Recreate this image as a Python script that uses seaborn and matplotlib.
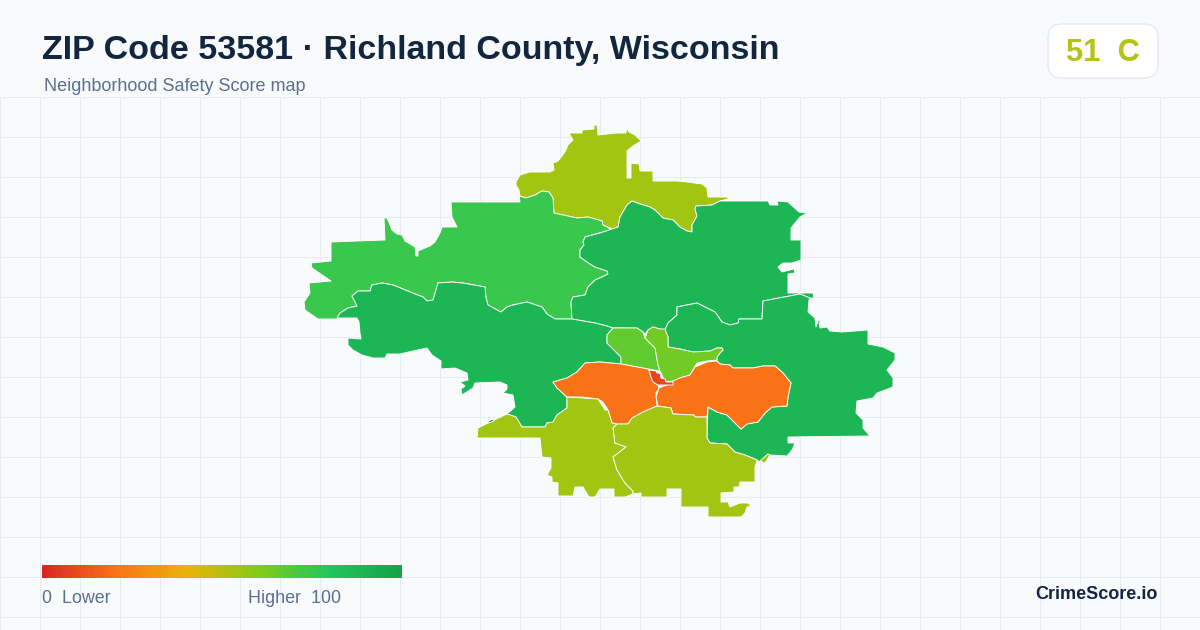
#!/usr/bin/env python3
"""Neighborhood Safety Score map for ZIP 53581, redrawn with seaborn + matplotlib."""

import numpy as np
import matplotlib
matplotlib.use("Agg")
import matplotlib.pyplot as plt
import seaborn as sns
from matplotlib.colors import LinearSegmentedColormap
from matplotlib.patches import FancyBboxPatch

# score scale
scale_stops = [0.0, 0.2, 0.4, 0.6, 0.8, 1.0]
scale_colors = ["#dc2626", "#f97316", "#eab308", "#84cc16", "#22c55e", "#16a34a"]
legend_scores = list(range(0, 101))

title = "ZIP Code 53581 · Richland County, Wisconsin"
subtitle = "Neighborhood Safety Score map"
badge_text = "51  C"

# tract outlines (x, y on the 1200x630 canvas)
north_tract = [(516,182),(520,175),(530,172),(550,172),(554,170),(553,163),(558,161),(565,152),(568,145),(573,140),(569,133),(582,133),(582,130),(594,129),(594,125),(597,125),(598,135),(617,133),(626,133),(627,128),(629,132),(635,135),(641,141),(633,146),(627,151),(627,178),(631,178),(631,163),(639,164),(640,171),(653,171),(653,181),(677,181),(687,182),(702,184),(707,188),(708,197),(728,197),(728,199),(720,201),(712,205),(696,206),(695,209),(697,216),(692,225),(692,232),(687,231),(680,227),(673,220),(663,218),(655,210),(650,207),(640,204),(632,201),(627,205),(620,217),(618,227),(612,229),(603,225),(602,221),(588,217),(577,218),(554,213),(553,198),(549,192),(542,191),(535,195),(526,198),(520,196),(519,190),(516,185)]
northwest_tract = [(451,202),(520,202),(519,196),(526,198),(535,195),(542,191),(549,192),(553,198),(554,213),(577,218),(588,217),(602,221),(603,225),(609,228),(610,230),(585,237),(583,242),(584,245),(580,250),(580,257),(587,262),(595,267),(607,271),(608,274),(602,277),(595,280),(588,287),(585,295),(573,297),(571,302),(572,319),(555,319),(547,314),(542,307),(527,302),(513,305),(507,307),(501,312),(488,305),(486,298),(485,287),(463,283),(452,282),(438,283),(433,300),(427,301),(423,297),(415,294),(403,289),(393,285),(382,283),(372,285),(370,291),(358,291),(352,296),(357,306),(348,308),(340,313),(337,319),(318,319),(305,310),(304,302),(310,293),(309,283),(331,281),(312,268),(311,263),(331,261),(331,242),(357,241),(385,240),(384,218),(387,218),(392,230),(397,234),(402,235),(405,241),(415,247),(416,256),(418,256),(418,251),(430,246),(435,242),(440,233),(442,227),(457,227),(452,217)]
center_north_tract = [(585,237),(600,233),(612,229),(618,227),(620,217),(627,205),(632,201),(640,204),(650,207),(655,210),(663,218),(673,220),(680,227),(687,231),(692,232),(692,225),(697,216),(695,209),(696,206),(712,205),(720,201),(768,201),(770,205),(778,205),(777,201),(788,202),(799,212),(807,213),(800,217),(795,223),(791,228),(791,240),(801,240),(801,260),(792,263),(783,263),(778,267),(782,272),(794,269),(795,273),(788,274),(788,293),(813,293),(814,298),(810,298),(800,294),(763,301),(762,319),(739,319),(738,323),(730,325),(722,322),(715,312),(697,303),(677,307),(677,315),(668,323),(665,330),(660,329),(653,327),(648,330),(645,334),(643,332),(637,328),(613,328),(607,326),(595,323),(572,319),(571,302),(573,297),(585,295),(588,287),(595,280),(602,277),(608,274),(607,271),(595,267),(587,262),(580,257),(580,250),(584,245),(583,242)]
west_tract = [(572,319),(555,319),(547,314),(542,307),(527,302),(513,305),(507,307),(501,312),(488,305),(486,298),(485,287),(463,283),(452,282),(438,283),(433,300),(427,301),(423,297),(415,294),(403,289),(393,285),(382,283),(372,285),(370,291),(358,291),(352,296),(357,306),(348,308),(340,313),(337,318),(357,318),(359,322),(360,333),(361,339),(348,338),(348,345),(353,350),(362,355),(373,358),(385,358),(387,354),(400,354),(413,351),(427,348),(432,355),(441,361),(441,369),(455,368),(467,373),(468,380),(460,382),(465,386),(461,389),(462,395),(473,388),(475,383),(500,382),(507,385),(507,389),(503,393),(513,395),(515,407),(507,414),(516,417),(522,427),(533,427),(545,427),(547,423),(553,422),(557,415),(567,408),(567,397),(557,388),(553,382),(567,378),(577,372),(585,363),(600,362),(621,364),(621,357),(607,343),(607,335),(613,328),(607,326),(595,323)]
east_tract = [(665,330),(668,323),(677,315),(677,307),(697,303),(715,312),(722,322),(730,325),(738,323),(739,319),(762,319),(763,301),(800,294),(810,298),(809,300),(808,312),(815,318),(816,327),(818,321),(822,319),(819,323),(820,328),(827,327),(830,331),(842,332),(868,330),(868,344),(883,347),(895,353),(895,360),(887,370),(893,378),(893,387),(877,393),(873,398),(857,401),(856,413),(863,420),(863,428),(870,436),(788,437),(788,443),(795,443),(792,450),(787,456),(770,455),(768,454),(760,462),(757,460),(745,455),(735,452),(727,444),(710,443),(707,438),(708,407),(717,412),(727,415),(741,429),(747,424),(758,422),(765,413),(772,407),(787,406),(788,397),(791,383),(783,373),(775,366),(763,366),(753,368),(733,368),(730,365),(720,364),(717,361),(717,357),(720,353),(723,350),(722,348),(717,348),(710,351),(693,352),(680,349),(668,347),(668,337)]
inner_west_tract = [(613,328),(637,328),(643,332),(645,338),(655,348),(658,365),(660,371),(648,369),(621,364),(621,357),(607,343),(607,335)]
inner_east_tract = [(645,338),(648,330),(653,327),(660,329),(665,329),(668,337),(668,347),(680,349),(693,352),(710,351),(717,348),(722,348),(723,350),(720,353),(717,357),(717,360),(707,361),(697,363),(690,375),(680,378),(673,381),(665,382),(662,375),(660,371),(658,365),(655,348)]
downtown_tract = [(649,370),(656,371),(657,373),(660,373),(661,378),(665,379),(666,382),(673,382),(673,385),(658,385),(653,382),(651,377)]
orange_west_tract = [(553,382),(567,378),(577,372),(585,363),(600,362),(621,364),(648,369),(649,370),(651,377),(653,382),(658,385),(659,388),(656,393),(657,406),(643,412),(632,418),(628,424),(617,424),(612,423),(608,410),(603,402),(598,399),(582,397),(567,397),(557,388)]
orange_east_tract = [(659,388),(672,383),(673,381),(680,378),(690,375),(695,367),(707,362),(717,361),(720,364),(730,365),(733,368),(753,368),(763,366),(775,366),(783,373),(791,383),(788,397),(787,406),(772,407),(765,413),(758,422),(747,424),(741,429),(727,415),(717,412),(708,407),(707,417),(695,417),(694,415),(673,414),(671,408),(658,406),(656,397)]
south_tract = [(477,438),(478,428),(490,422),(507,414),(516,417),(522,427),(545,427),(547,423),(553,422),(557,415),(567,408),(567,397),(598,399),(605,410),(608,410),(612,423),(617,424),(613,428),(615,443),(626,447),(613,457),(617,470),(625,483),(633,491),(633,494),(625,497),(614,497),(614,489),(600,489),(595,497),(589,497),(583,487),(575,487),(573,496),(558,496),(558,483),(552,482),(552,477),(547,475),(551,468),(551,458),(542,457),(540,438)]
southeast_tract = [(628,424),(632,418),(643,412),(657,406),(671,408),(673,414),(694,415),(695,417),(707,417),(707,438),(710,443),(727,444),(735,452),(745,455),(757,460),(755,467),(755,482),(740,482),(739,487),(734,487),(734,492),(721,493),(721,502),(728,502),(730,507),(740,503),(748,503),(751,506),(747,507),(745,513),(741,517),(708,517),(708,507),(681,507),(681,489),(667,489),(667,497),(641,497),(641,493),(633,494),(633,491),(625,483),(617,470),(613,457),(626,447),(615,443),(613,428),(617,424)]
olive_sliver = [(760,461),(768,454),(770,455),(765,463)]
green_sliver = [(488,421),(493,419),(494,421),(489,423)]

tracts = [north_tract, northwest_tract, center_north_tract, west_tract, east_tract,
          inner_west_tract, inner_east_tract, orange_west_tract, orange_east_tract,
          downtown_tract, south_tract, southeast_tract, olive_sliver, green_sliver]
tract_scores = [54, 75, 89, 89, 89, 67, 64, 20, 20, 8, 54, 54, 54, 89]

sns.set_theme(style="white")
plt.rcParams["font.family"] = ["Liberation Sans", "DejaVu Sans"]

cmap = LinearSegmentedColormap.from_list("safety", list(zip(scale_stops, scale_colors)))

fig = plt.figure(figsize=(12, 6.3), dpi=100, facecolor="#f8fafc")


def fx(x):
    return x / 1200


def fy(y):
    return 1 - y / 630


# map area with the graph paper grid, starts under the header
ax = fig.add_axes([0, 0, 1, fy(97)])
ax.set_xlim(0, 1200)
ax.set_ylim(630, 97)
ax.set_facecolor("#f8fafc")
ax.set_xticks(np.arange(0, 1200, 40))
ax.set_yticks(np.arange(97, 630, 40))
ax.set_xticklabels([])
ax.set_yticklabels([])
ax.tick_params(length=0)
ax.grid(True, color="#e4edf3", lw=0.72)
ax.set_axisbelow(True)
sns.despine(ax=ax, left=True, bottom=True)

for pts, score in zip(tracts, tract_scores):
    xs, ys = zip(*pts)
    ax.fill(xs, ys, facecolor=cmap(score / 100), edgecolor="white", lw=0.65, joinstyle="round")

# header
fig.text(fx(42), fy(59), title, fontsize=24.47, fontweight="bold", color="#12263f", va="baseline")
fig.text(fx(44), fy(91), subtitle, fontsize=12.95, color="#5a7090", va="baseline")

# score badge
ax_top = fig.add_axes([0, 0, 1, 1], facecolor="none")
ax_top.set_xlim(0, 1200)
ax_top.set_ylim(630, 0)
ax_top.axis("off")
ax_top.add_patch(FancyBboxPatch((1062, 38), 82, 26, boxstyle="round,pad=14,rounding_size=14",
                                fc="white", ec="#e2e8f0", lw=0.9))
ax_top.text(1103, 61, badge_text, fontsize=22.2, fontweight="bold", color="#b5c314", ha="center", va="baseline")

# gradient legend
ax_leg = fig.add_axes([fx(42), fy(578), 360 / 1200, 13 / 630])
sns.heatmap(np.array([legend_scores]), cmap=cmap, vmin=0, vmax=100, cbar=False,
            xticklabels=False, yticklabels=False, ax=ax_leg, linewidths=0, rasterized=True)

fig.text(fx(42), fy(603), "0  Lower", fontsize=12.9, color="#5a7090", va="baseline")
fig.text(fx(341), fy(603), "Higher  100", fontsize=12.9, color="#5a7090", ha="right", va="baseline")
fig.text(fx(1158), fy(599), "CrimeScore.io", fontsize=13, fontweight="bold", color="#12263f", ha="right", va="baseline")

fig.savefig("out.png", dpi=100, facecolor=fig.get_facecolor())
plt.close(fig)
